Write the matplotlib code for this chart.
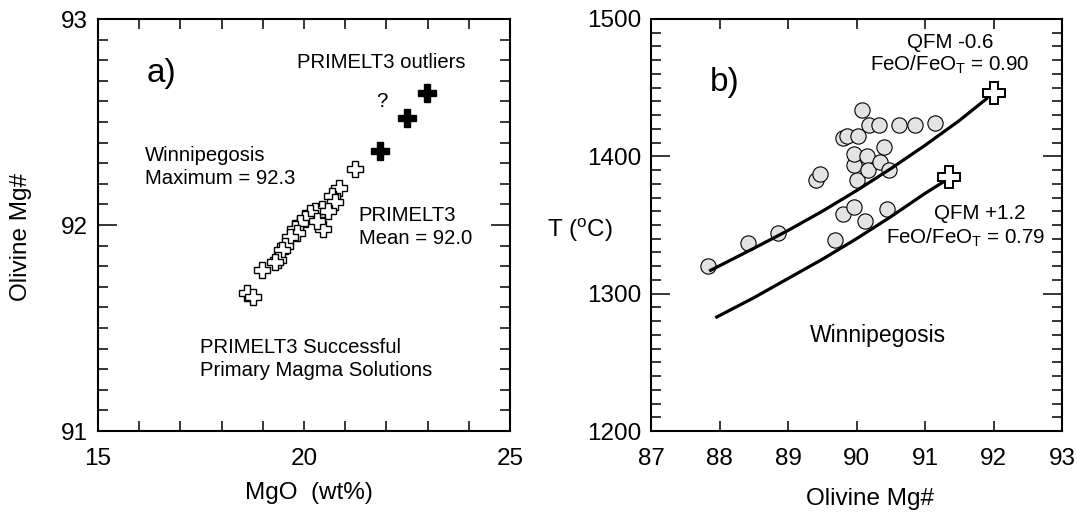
import matplotlib
matplotlib.use('Agg')
import matplotlib.pyplot as plt
from matplotlib.ticker import MultipleLocator

plt.rcParams['font.family'] = ['Liberation Sans', 'DejaVu Sans']
plt.rcParams['mathtext.fontset'] = 'custom'
plt.rcParams['mathtext.rm'] = 'Liberation Sans'
plt.rcParams['mathtext.it'] = 'Liberation Sans:italic'
plt.rcParams['mathtext.bf'] = 'Liberation Sans:bold'

# (a) PRIMELT3 successful primary magma solutions
mgo_ok = [21.24, 20.86, 20.67, 20.75, 20.43, 20.27, 20.15, 20.47, 20.02, 19.90,
          19.78, 19.82, 19.66, 19.54, 19.46, 19.38, 19.30, 18.97, 18.61, 18.77,
          20.59, 20.31]
mg_ok = [92.27, 92.18, 92.14, 92.11, 92.08, 92.07, 92.06, 91.98, 92.03, 92.01,
         91.98, 91.96, 91.94, 91.90, 91.88, 91.83, 91.82, 91.78, 91.67, 91.65,
         92.07, 92.02]
# PRIMELT3 outliers
mgo_out = [21.85, 22.49, 22.98]
mg_out = [92.36, 92.52, 92.64]

# (b) Winnipegosis olivine Mg# vs T
ol_mg = [87.83, 88.41, 88.85, 89.69, 89.81, 89.96, 90.12, 90.45, 89.41, 89.47,
         90.00, 89.96, 89.96, 90.15, 90.17, 90.35, 90.48, 90.40, 89.81, 89.86,
         90.02, 90.18, 90.33, 90.62, 90.85, 91.14, 90.08]
temp = [1320, 1337, 1344, 1339, 1358, 1363, 1353, 1362, 1383, 1387,
        1383, 1394, 1402, 1400, 1390, 1396, 1390, 1407, 1413, 1415,
        1415, 1423, 1423, 1423, 1423, 1424, 1434]

# QFM -0.6 (FeO/FeOT = 0.90) curve
qfm_lo_x = [87.87, 88.5, 89.0, 89.5, 90.0, 90.5, 91.0, 91.5, 91.9]
qfm_lo_t = [1317, 1333, 1346, 1360, 1375, 1391, 1408, 1426, 1442]
# QFM +1.2 (FeO/FeOT = 0.79) curve
qfm_hi_x = [87.96, 88.5, 89.0, 89.5, 90.0, 90.5, 91.0, 91.32]
qfm_hi_t = [1283, 1297, 1311, 1325, 1340, 1356, 1373, 1383]
# primary magma estimates
prim_mg = [92.0, 91.35]
prim_t = [1446, 1385]

fig = plt.figure(figsize=(10.77, 5.15), dpi=100)
ax1 = fig.add_axes([98 / 1077, 84 / 515, 412 / 1077, 412 / 515])
ax2 = fig.add_axes([651 / 1077, 84 / 515, 411 / 1077, 412 / 515])

for ax in (ax1, ax2):
    for s in ax.spines.values():
        s.set_linewidth(1.5)
    ax.tick_params(which='both', direction='in', top=True, right=True,
                   width=1.1, labelsize=17.5)
    ax.tick_params(which='major', length=14)
    ax.tick_params(which='minor', length=7.5)
    ax.tick_params(axis='x', which='both', pad=12)
    ax.tick_params(axis='y', which='both', pad=7)

# ---- panel a
ax1.plot(mgo_ok, mg_ok, 'P', ms=11.5, mfc='white', mec='black', mew=1.0)
ax1.plot(mgo_out, mg_out, 'P', ms=13, mfc='black', mec='black', mew=1.0)
ax1.set_xlim(15, 25)
ax1.set_ylim(91, 93)
ax1.xaxis.set_major_locator(MultipleLocator(5))
ax1.xaxis.set_minor_locator(MultipleLocator(1))
ax1.yaxis.set_major_locator(MultipleLocator(1))
ax1.yaxis.set_minor_locator(MultipleLocator(0.1))
ax1.tick_params(axis='x', which='major', length=7.5)
ax1.set_xlabel('MgO  (wt%)', fontsize=17.5)
ax1.set_ylabel('Olivine Mg#', fontsize=17.5)
ax1.xaxis.set_label_coords(0.513, -0.125)
ax1.yaxis.set_label_coords(-0.16, 0.471)

kw = dict(transform=ax1.transAxes, fontsize=14.6, va='center', linespacing=1.25)
ax1.text(0.119, 0.868, 'a)', transform=ax1.transAxes, fontsize=24, va='center')
ax1.text(0.484, 0.894, 'PRIMELT3 outliers', **kw)
ax1.text(0.689, 0.799, '?', ha='center', **kw)
ax1.text(0.115, 0.641, 'Winnipegosis\nMaximum = 92.3', **kw)
ax1.text(0.633, 0.495, 'PRIMELT3\nMean = 92.0', **kw)
ax1.text(0.247, 0.175, 'PRIMELT3 Successful\nPrimary Magma Solutions', **kw)

# ---- panel b
ax2.plot(ol_mg, temp, 'o', ms=11, mfc='#e3e3e3', mec='black', mew=0.8)
ax2.plot(qfm_lo_x, qfm_lo_t, '-', color='black', lw=2.3)
ax2.plot(qfm_hi_x, qfm_hi_t, '-', color='black', lw=2.3)
ax2.plot(prim_mg, prim_t, 'P', ms=16, mfc='white', mec='black', mew=1.4)
ax2.set_xlim(87, 93)
ax2.set_ylim(1200, 1500)
ax2.xaxis.set_major_locator(MultipleLocator(1))
ax2.yaxis.set_major_locator(MultipleLocator(100))
ax2.yaxis.set_minor_locator(MultipleLocator(10))
ax2.tick_params(axis='x', which='major', length=7.5)
ax2.set_xlabel('Olivine Mg#', fontsize=17.5)
ax2.xaxis.set_label_coords(0.533, -0.138)
ax2.text(-0.173, 0.487, r'T ($^{\rm o}$C)', transform=ax2.transAxes,
         fontsize=17.5, ha='center', va='center')

kw = dict(transform=ax2.transAxes, fontsize=14.8, va='center', ha='center')
ax2.text(0.144, 0.847, 'b)', transform=ax2.transAxes, fontsize=24, va='center')
ax2.text(0.727, 0.942, 'QFM -0.6', **kw)
ax2.text(0.727, 0.888, r'FeO/FeO$_{\rm T}$ = 0.90', **kw)
ax2.text(0.799, 0.527, 'QFM +1.2', **kw)
ax2.text(0.765, 0.470, r'FeO/FeO$_{\rm T}$ = 0.79', **kw)
ax2.text(0.552, 0.231, 'Winnipegosis', transform=ax2.transAxes, fontsize=16.5,
         va='center', ha='center')

fig.savefig('out.png', dpi=100)
